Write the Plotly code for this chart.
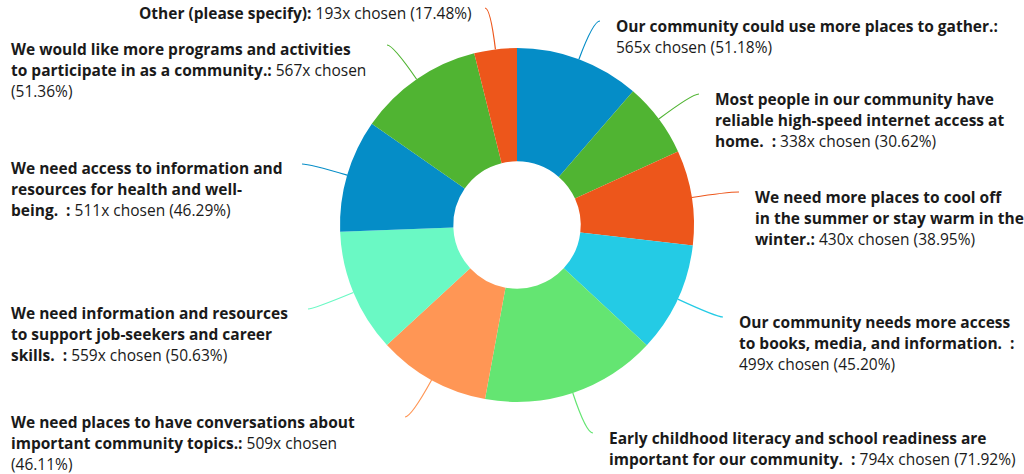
import math
import plotly.graph_objects as go

# ---------------- data ----------------
labels = [
    "Our community could use more places to gather.",
    "Most people in our community have reliable high-speed internet access at home.  ",
    "We need more places to cool off in the summer or stay warm in the winter.",
    "Our community needs more access to books, media, and information.  ",
    "Early childhood literacy and school readiness are important for our community.  ",
    "We need places to have conversations about important community topics.",
    "We need information and resources to support job-seekers and career skills.  ",
    "We need access to information and resources for health and well-being.  ",
    "We would like more programs and activities to participate in as a community.",
    "Other (please specify)",
]
counts = [565, 338, 430, 499, 794, 509, 559, 511, 567, 193]
percents = [51.18, 30.62, 38.95, 45.20, 71.92, 46.11, 50.63, 46.29, 51.36, 17.48]

# ---------------- style / layout ----------------
W, H = 1024, 474
CX, CY, R = 517, 225, 177
HOLE = 0.36
colors = ["#058DC7", "#50B432", "#ED561B", "#24CBE5", "#64E572",
          "#FF9655", "#6AF9C4", "#058DC7", "#50B432", "#ED561B"]
FONT = "Open Sans"
FS = 15.5
LINE_H = 21

# label layout: (text left x, first line centre y, connector end x, end y, break markers)
label_layout = [
    (614, 26, 600, 21, ["gather.: "]),
    (713, 99, 699, 94, ["have ", "at "]),
    (753, 197, 739, 192, ["cool off ", "warm in the "]),
    (737, 322, 723, 317, ["access ", ": "]),
    (607, 438, 593, 433, ["are "]),
    (9, 422, 405, 417, ["about ", "chosen "]),
    (9, 313, 308, 309, ["resources ", "career "]),
    (9, 168, 302, 164, ["and ", "well-"]),
    (9, 49, 387, 45, ["activities ", "chosen "]),
    (137, 13, 485, 8, []),
]


def px(x):
    return x / W


def py(y):
    return 1 - y / H


def wrap(bold, rest, markers):
    full = bold + " " + rest
    nb = len(bold)
    lines = []
    pos = 0
    for m in markers:
        i = full.find(m, pos)
        if i < 0:
            continue
        end = i + len(m)
        lines.append((pos, end))
        pos = end
    lines.append((pos, len(full)))
    out = []
    for a, b in lines:
        seg_b = full[a:min(b, nb)] if a < nb else ""
        seg_r = full[max(a, nb):b]
        txt = ""
        if seg_b:
            txt += "<b>" + seg_b.rstrip(" ") + "</b>"
            if seg_b.endswith(" ") or (seg_r.startswith(" ")):
                txt += " "
            seg_r = seg_r.lstrip(" ")
        txt += seg_r.rstrip(" ")
        out.append(txt)
    return out


fig = go.Figure()
fig.add_trace(go.Pie(
    values=counts,
    labels=labels,
    sort=False,
    direction="clockwise",
    rotation=0,
    hole=HOLE,
    marker=dict(colors=colors, line=dict(width=0)),
    textinfo="none",
    hoverinfo="label+value",
    showlegend=False,
    domain=dict(x=[(CX - R) / W, (CX + R) / W], y=[(H - CY - R) / H, (H - CY + R) / H]),
))

total = sum(counts)
shapes = []
annotations = []
cum = 0.0
for i, v in enumerate(counts):
    mid = (cum + v / 2) / total * 2 * math.pi
    cum += v
    dx, dy = math.sin(mid), -math.cos(mid)
    x0, y0 = CX + R * dx, CY + R * dy
    tx, ty, ex, ey, markers = label_layout[i]
    dist = math.hypot(ex - x0, ey - y0)
    if abs(dy) > 1e-3:
        s = (ey - y0) / dy
    else:
        s = dist
    s = max(0.0, min(s, dist))
    qx, qy = x0 + dx * s, y0 + dy * s
    path = f"M {px(x0)},{py(y0)} Q {px(qx)},{py(qy)} {px(ex)},{py(ey)}"
    shapes.append(dict(type="path", xref="paper", yref="paper", path=path,
                       line=dict(color=colors[i], width=1.2), layer="above"))

    bold = (labels[i] + ":").replace("  ", "\u00a0 ")
    rest = f"{counts[i]}x chosen ({percents[i]:.2f}%)"
    for k, line in enumerate(wrap(bold, rest, markers)):
        annotations.append(dict(
            x=px(tx), y=py(ty + k * LINE_H), xref="paper", yref="paper",
            xanchor="left", yanchor="middle", showarrow=False, align="left",
            text=line, font=dict(family=FONT, size=FS, color="#1a1a1a"),
        ))

fig.update_layout(
    width=W, height=H,
    margin=dict(l=0, r=0, t=0, b=0),
    paper_bgcolor="white", plot_bgcolor="white",
    shapes=shapes, annotations=annotations,
    font=dict(family=FONT),
)
fig.write_html("out.html",
               config={"displayModeBar": False},
               post_script="document.body.style.margin='0px';document.body.style.overflow='hidden';")
